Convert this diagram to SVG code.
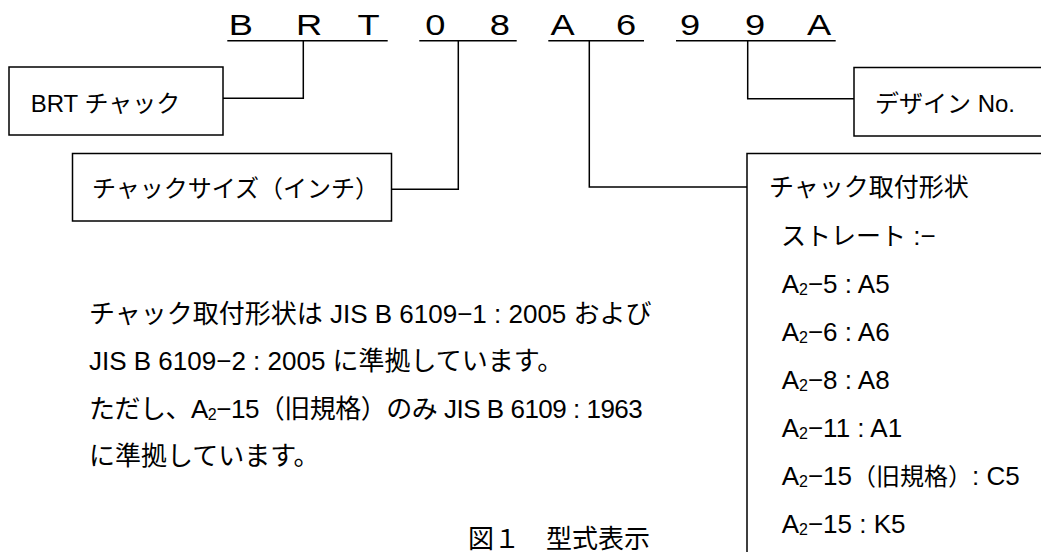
<svg xmlns="http://www.w3.org/2000/svg" width="1041" height="552" viewBox="0 0 1041 552">
<style>
.ln{fill:none;stroke:#000;stroke-width:1.5}
.bx{fill:#fff;stroke:#000;stroke-width:1.5}
text{font-family:"Liberation Sans","Noto Sans CJK JP",sans-serif;fill:#000}
.t24{font-size:24px}
.t25{font-size:25px}
.t26{font-size:26px}
.code{font-size:29px}
.sub{font-size:16px}
</style>
<rect width="1041" height="552" fill="#fff"/>
<g id="code">
<g transform="scale(1.25,1)">
<text class="code" text-anchor="middle" y="35"><tspan x="192.6">B</tspan><tspan x="247.2">R</tspan><tspan x="294.8">T</tspan><tspan x="348.2">0</tspan><tspan x="399.8">8</tspan><tspan x="450">A</tspan><tspan x="500.8">6</tspan><tspan x="552">9</tspan><tspan x="604">9</tspan><tspan x="655.2">A</tspan></text>
</g>
<path class="ln" d="M227.3 40.7H387.7M419.3 40.7H516.7M548.3 40.7H644M676 40.7H835.7"/>
</g>
<g id="connectors">
<path class="ln" d="M303.3 40.7V98.3H223"/>
<path class="ln" d="M458.3 40.7V189.3H391.7"/>
<path class="ln" d="M589.3 40.7V187H747"/>
<path class="ln" d="M747.7 40.7V98.7H854"/>
</g>
<g id="node-brt">
<rect class="bx" x="9" y="67" width="214" height="68"/>
<text class="t24" x="30.7" y="112">BRT チャック</text>
</g>
<g id="node-size">
<rect class="bx" x="72.5" y="153.5" width="319" height="67.5"/>
<text class="t24" x="92" y="197">チャックサイズ（インチ）</text>
</g>
<g id="node-design">
<rect class="bx" x="854" y="67.5" width="220" height="68.5"/>
<text class="t24" x="875" y="111.5">デザイン No.</text>
</g>
<g id="node-mount">
<rect class="bx" x="747" y="153.5" width="330" height="430"/>
<text class="t25" x="769" y="196">チャック取付形状</text>
<text class="t26" x="781" y="245"><tspan font-size="25">ストレート</tspan> :−</text>
<text class="t26" x="781.7" y="293">A<tspan class="sub" dy="2">2</tspan><tspan dy="-2">−5 : A5</tspan></text>
<text class="t26" x="781.7" y="341">A<tspan class="sub" dy="2">2</tspan><tspan dy="-2">−6 : A6</tspan></text>
<text class="t26" x="781.7" y="389">A<tspan class="sub" dy="2">2</tspan><tspan dy="-2">−8 : A8</tspan></text>
<text class="t26" x="781.7" y="437">A<tspan class="sub" dy="2">2</tspan><tspan dy="-2">−11 : A1</tspan></text>
<text class="t26" x="781.7" y="485">A<tspan class="sub" dy="2">2</tspan><tspan dy="-2">−15<tspan font-size="24">（旧規格）</tspan>: C5</tspan></text>
<text class="t26" x="781.7" y="533">A<tspan class="sub" dy="2">2</tspan><tspan dy="-2">−15 : K5</tspan></text>
</g>
<g id="note">
<text class="t26" x="89" y="323">チャック取付形状は JIS B 6109−1 : 2005 および</text>
<text class="t26" x="89" y="370">JIS B 6109−2 : 2005 に準拠しています。</text>
<text class="t26" x="89" y="417.5" letter-spacing="-0.5">ただし、A<tspan class="sub" dy="2">2</tspan><tspan dy="-2">−15（旧規格）のみ JIS B 6109 : 1963</tspan></text>
<text class="t26" x="89" y="464.5">に準拠しています。</text>
</g>
<g id="caption">
<text class="t26" x="468" y="548">図１　型式表示</text>
</g>
</svg>
